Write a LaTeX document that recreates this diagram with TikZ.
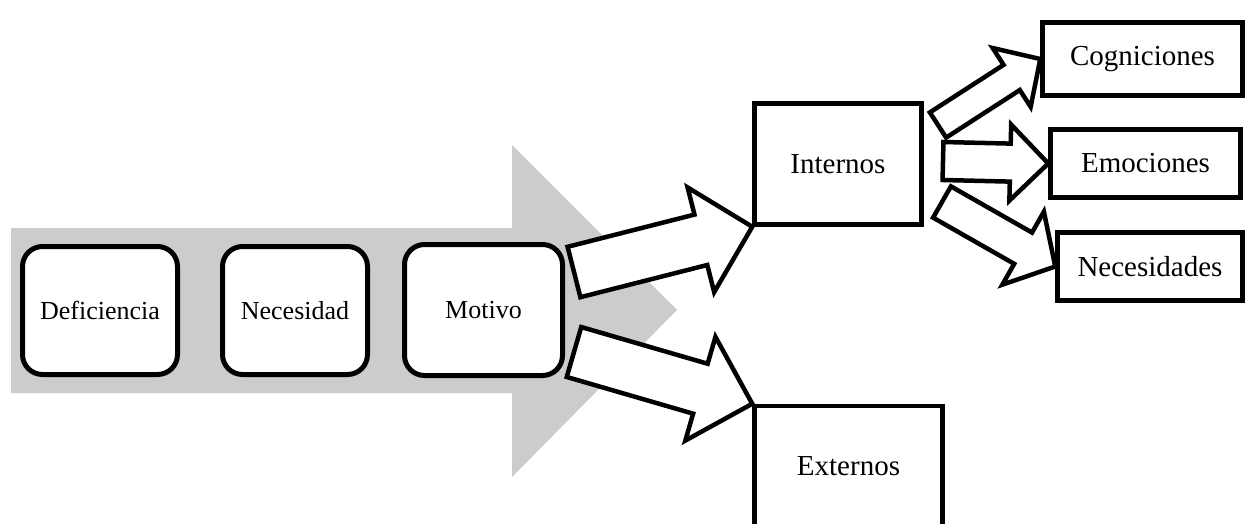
\documentclass[tikz,border=0pt]{standalone}
\usepackage{fontspec}
\setmainfont{Liberation Serif}
\usetikzlibrary{calc}
\definecolor{bgarrow}{HTML}{CCCCCC}
% block arrow: #1 tail, #2 tip, #3 half shaft, #4 half head, #5 head length
\newcommand{\fatarrow}[5]{%
	\coordinate (neck) at ($(#2)!#5!(#1)$);
	\draw[fatarr] ($(#1)!#3!90:(#2)$) -- ($(neck)!#3!-90:(#1)$) -- ($(neck)!#4!-90:(#1)$) -- (#2)
	-- ($(neck)!#4!90:(#1)$) -- ($(neck)!#3!90:(#1)$) -- ($(#1)!#3!-90:(#2)$) -- cycle;}
\begin{document}
\begin{tikzpicture}[x=1pt, y=-1pt, line join=miter,
	roundbox/.style={draw, fill=white, line width=5pt, rounded corners=20pt, font=\fontsize{26}{30}\selectfont},
	sqbox/.style={draw, fill=white, line width=4.5pt, font=\fontsize{29}{34}\selectfont},
	fatarr/.style={draw, fill=white, line width=4.5pt}]
	\useasboundingbox (0,0) rectangle (1247,523);
	\clip (0,0) rectangle (1247,523);
	\fill[bgarrow] (11,228) -- (512,228) -- (512,145) -- (677,310) -- (512,477) -- (512,393) -- (11,393) -- cycle;
	\node[roundbox, minimum width=155pt, minimum height=128pt] (def) at (100,310.5) {Deficiencia};
	\node[roundbox, minimum width=145pt, minimum height=128pt] (nec) at (295,310.5) {Necesidad};
	\node[roundbox, minimum width=158pt, minimum height=131pt] (mot) at (483.5,310) {Motivo};
	\node[sqbox, minimum width=167pt, minimum height=121pt] (int) at (838,164) {Internos};
	\node[sqbox, minimum width=188pt, minimum height=120pt] (ext) at (848.5,466) {Externos};
	\node[sqbox, minimum width=200pt, minimum height=73pt] (cog) at (1142.5,59) {Cogniciones};
	\node[sqbox, minimum width=190pt, minimum height=68pt] (emo) at (1145.5,163.5) {Emociones};
	\node[sqbox, minimum width=185pt, minimum height=68pt] (neces) at (1150,266.5) {Necesidades};
	\path
	(574,272) coordinate (mi)
	(574,352) coordinate (me)
	(938,125) coordinate (ic)
	(943,161) coordinate (ie)
	(942,202) coordinate (in)
	;
	\fatarrow{mi}{int.south west}{26pt}{54pt}{53pt}
	\fatarrow{me}{ext.north west}{26pt}{54pt}{54pt}
	\fatarrow{ic}{cog.west}{15pt}{35pt}{34pt}
	\fatarrow{ie}{emo.west}{19pt}{38pt}{38pt}
	\fatarrow{in}{neces.west}{18pt}{42pt}{37pt}
\end{tikzpicture}
\end{document}
